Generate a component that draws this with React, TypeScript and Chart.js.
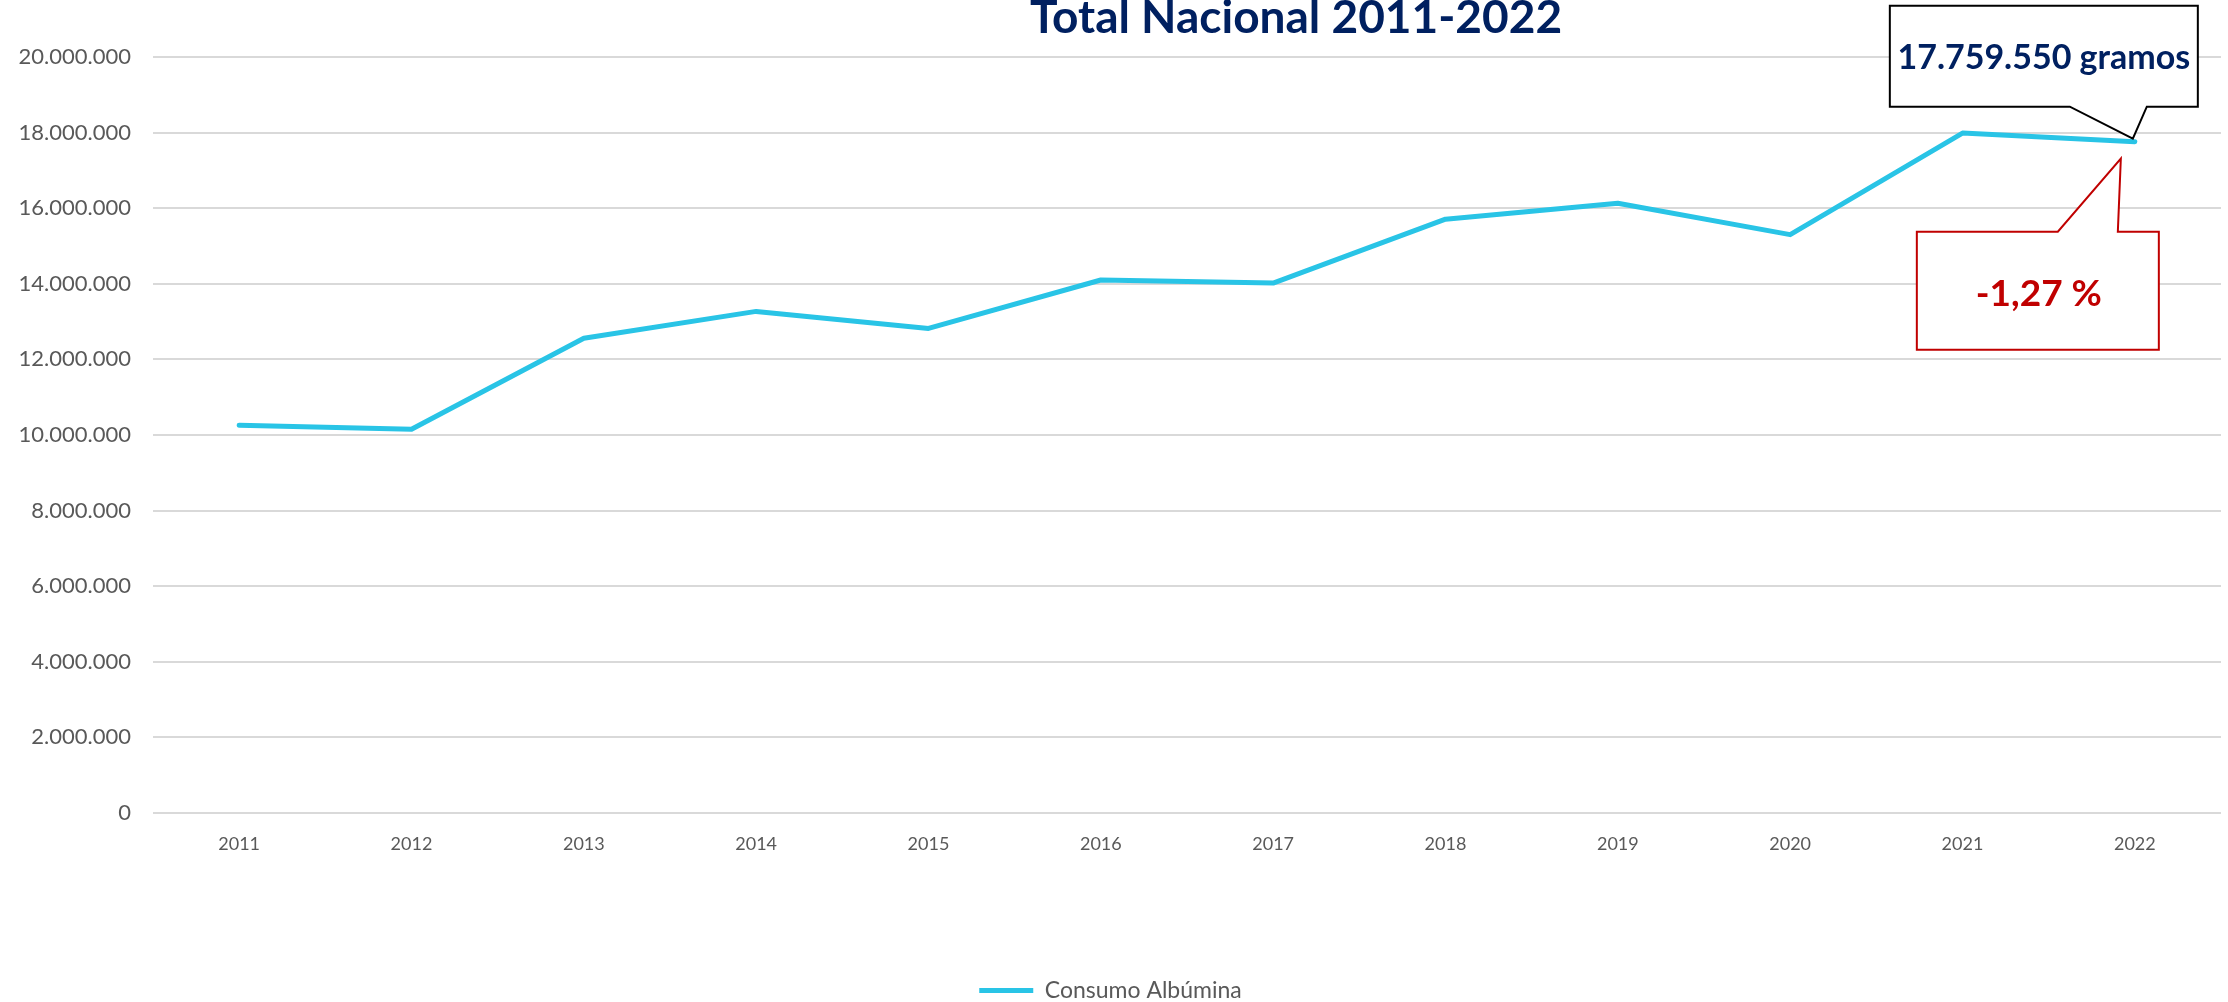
import React, { useEffect, useRef } from 'react';
import { Chart, registerables } from 'chart.js';

Chart.register(...registerables);

const categories = ['2011', '2012', '2013', '2014', '2015', '2016', '2017', '2018', '2019', '2020', '2021', '2022'];
const consumoAlbumina = [10260000, 10150000, 12560000, 13270000, 12820000, 14100000, 14020000, 15710000, 16130000, 15300000, 17988000, 17759550];
const yMin = 0;
const yMax = 20000000;
const yStep = 2000000;
const titleText = 'Total Nacional 2011-2022';
const seriesLabel = 'Consumo Albúmina';
const valueCallout = '17.759.550 gramos';
const changeCallout = '-1,27 %';

const W = 2228;
const H = 1002;
const FONT = 'Lato, "Open Sans", sans-serif';
const LINE_COLOR = '#29C4E6';
const TEXT_GREY = '#595959';
const NAVY = '#002060';
const RED = '#C00000';

const fmt = (v: number) => String(Math.round(v)).replace(/\B(?=(\d{3})+(?!\d))/g, '.');

const titlePlugin = {
  id: 'customTitle',
  afterDraw(chart: any) {
    const ctx = chart.ctx;
    ctx.save();
    ctx.font = `bold 46px ${FONT}`;
    ctx.fillStyle = NAVY;
    ctx.textAlign = 'center';
    ctx.textBaseline = 'alphabetic';
    ctx.fillText(titleText, chart.width * 0.5817, 33);
    ctx.restore();
  },
};

const calloutPlugin = {
  id: 'callouts',
  afterDatasetsDraw(chart: any) {
    const meta = chart.getDatasetMeta(0);
    const pt = meta.data[meta.data.length - 1];
    if (!pt) return;
    const ax = pt.x;
    const ay = pt.y;
    const ctx = chart.ctx;
    ctx.save();

    // Value callout (black)
    ctx.beginPath();
    ctx.moveTo(ax - 245, ay - 136);
    ctx.lineTo(ax + 63, ay - 136);
    ctx.lineTo(ax + 63, ay - 35);
    ctx.lineTo(ax + 12, ay - 35);
    ctx.lineTo(ax - 2, ay - 3);
    ctx.lineTo(ax - 65, ay - 35);
    ctx.lineTo(ax - 245, ay - 35);
    ctx.closePath();
    ctx.fillStyle = '#FFFFFF';
    ctx.fill();
    ctx.lineWidth = 2;
    ctx.strokeStyle = '#000000';
    ctx.lineJoin = 'miter';
    ctx.stroke();
    ctx.font = `bold 34px ${FONT}`;
    ctx.fillStyle = NAVY;
    ctx.textAlign = 'center';
    ctx.textBaseline = 'middle';
    ctx.fillText(valueCallout, ax - 91, ay - 84);

    // Change callout (red)
    ctx.beginPath();
    ctx.moveTo(ax - 218, ay + 90);
    ctx.lineTo(ax - 77, ay + 90);
    ctx.lineTo(ax - 14, ay + 17);
    ctx.lineTo(ax - 17, ay + 90);
    ctx.lineTo(ax + 24, ay + 90);
    ctx.lineTo(ax + 24, ay + 208);
    ctx.lineTo(ax - 218, ay + 208);
    ctx.closePath();
    ctx.fillStyle = '#FFFFFF';
    ctx.fill();
    ctx.lineWidth = 2;
    ctx.strokeStyle = RED;
    ctx.stroke();
    ctx.font = `bold 37px ${FONT}`;
    ctx.fillStyle = RED;
    ctx.fillText(changeCallout, ax - 96, ay + 152);

    ctx.restore();
  },
};

export default function App() {
  const canvasRef = useRef<HTMLCanvasElement | null>(null);

  useEffect(() => {
    if (!canvasRef.current) return;
    const chart = new Chart(canvasRef.current, {
      type: 'line',
      data: {
        labels: categories,
        datasets: [
          {
            label: seriesLabel,
            data: consumoAlbumina,
            borderColor: LINE_COLOR,
            backgroundColor: LINE_COLOR,
            borderWidth: 5,
            borderCapStyle: 'round',
            borderJoinStyle: 'round',
            pointRadius: 0,
            pointHoverRadius: 0,
            tension: 0,
            fill: false,
          },
        ],
      },
      options: {
        animation: false,
        responsive: false,
        devicePixelRatio: 1,
        layout: { padding: { top: 57, right: 7, bottom: -10, left: 0 } },
        plugins: {
          title: { display: false },
          tooltip: { enabled: false },
          legend: {
            display: true,
            position: 'bottom',
            labels: {
              usePointStyle: true,
              pointStyle: 'line',
              pointStyleWidth: 54,
              padding: 4,
              color: TEXT_GREY,
              font: { family: FONT, size: 23 },
            },
          },
        },
        scales: {
          x: {
            offset: true,
            grid: { display: false, drawTicks: false },
            border: { display: false },
            ticks: {
              color: TEXT_GREY,
              font: { family: FONT, size: 18 },
              padding: 20,
              maxRotation: 0,
              autoSkip: false,
            },
            afterFit: (scale: any) => {
              scale.height = 162;
            },
          },
          y: {
            min: yMin,
            max: yMax,
            grid: { color: '#D9D9D9', lineWidth: 2, drawTicks: false },
            border: { display: false },
            ticks: {
              stepSize: yStep,
              color: TEXT_GREY,
              font: { family: FONT, size: 22 },
              padding: 22,
              callback: (v: any) => fmt(Number(v)),
            },
            afterFit: (scale: any) => {
              scale.width = 153;
            },
          },
        },
      },
      plugins: [titlePlugin, calloutPlugin],
    } as any);
    return () => chart.destroy();
  }, []);

  return (
    <div style={{ position: 'fixed', left: 0, top: 0, width: W, height: H, background: '#FFFFFF' }}>
      <canvas ref={canvasRef} width={W} height={H} style={{ width: W, height: H, display: 'block' }} />
    </div>
  );
}
